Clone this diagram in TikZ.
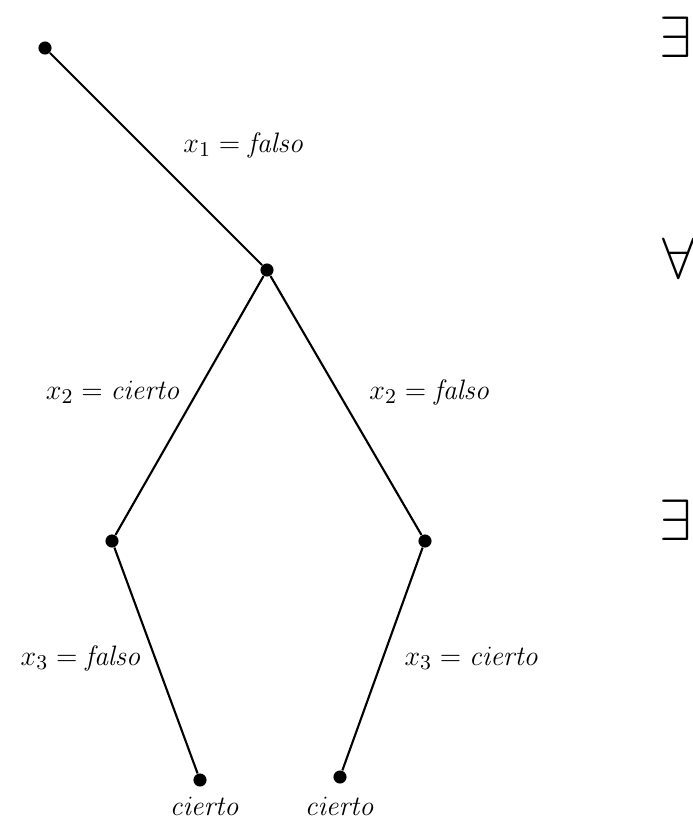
\documentclass[tikz,border=0pt]{standalone}
\usepackage{amsmath, amssymb}
\usetikzlibrary{positioning}

\begin{document}
\begin{tikzpicture}[
        dot/.style={circle, fill=black, inner sep=0pt, minimum size=5.6pt},
        edge/.style={line width=0.9pt},
        lbl/.style={font=\fontsize{12.8}{15}\selectfont},
        quant/.style={font=\fontsize{30}{36}\selectfont, inner sep=0pt}
    ]
        \useasboundingbox (0,0) rectangle (10.395,-12.345);
        % Nodes
        \node[dot] (root) at (0.675,-0.72) {};
        \node[dot] (n1) at (4.005,-4.05) {};
        \node[dot] (n2l) at (1.68,-8.115) {};
        \node[dot] (n2r) at (6.375,-8.115) {};
        \node[dot] (leafl) at (3.0,-11.7) {};
        \node[dot] (leafr) at (5.1,-11.655) {};

        % Edges
        \draw[edge] (root) -- (n1);
        \draw[edge] (n1) -- (n2l);
        \draw[edge] (n1) -- (n2r);
        \draw[edge] (n2l) -- (leafl);
        \draw[edge] (n2r) -- (leafr);

        % Labels
        \node[lbl] (l1) at (3.66,-2.175) {$x_1 = \mathit{falso}$};
        \node[lbl] (l2c) at (1.7,-5.88) {$x_2 = \mathit{cierto}$};
        \node[lbl] (l2f) at (6.45,-5.88) {$x_2 = \mathit{falso}$};
        \node[lbl] (l3f) at (1.22,-9.87) {$x_3 = \mathit{falso}$};
        \node[lbl] (l3c) at (7.08,-9.87) {$x_3 = \mathit{cierto}$};
        \node[lbl] (vl) at (3.075,-12.1) {$\mathit{cierto}$};
        \node[lbl] (vr) at (5.1,-12.1) {$\mathit{cierto}$};

        % Quantifiers
        \node[quant] (q1) at (10.13,-0.5625) {$\exists$};
        \node[quant] (q2) at (10.185,-3.87) {$\forall$};
        \node[quant] (q3) at (10.13,-7.8) {$\exists$};
    \end{tikzpicture}
\end{document}
